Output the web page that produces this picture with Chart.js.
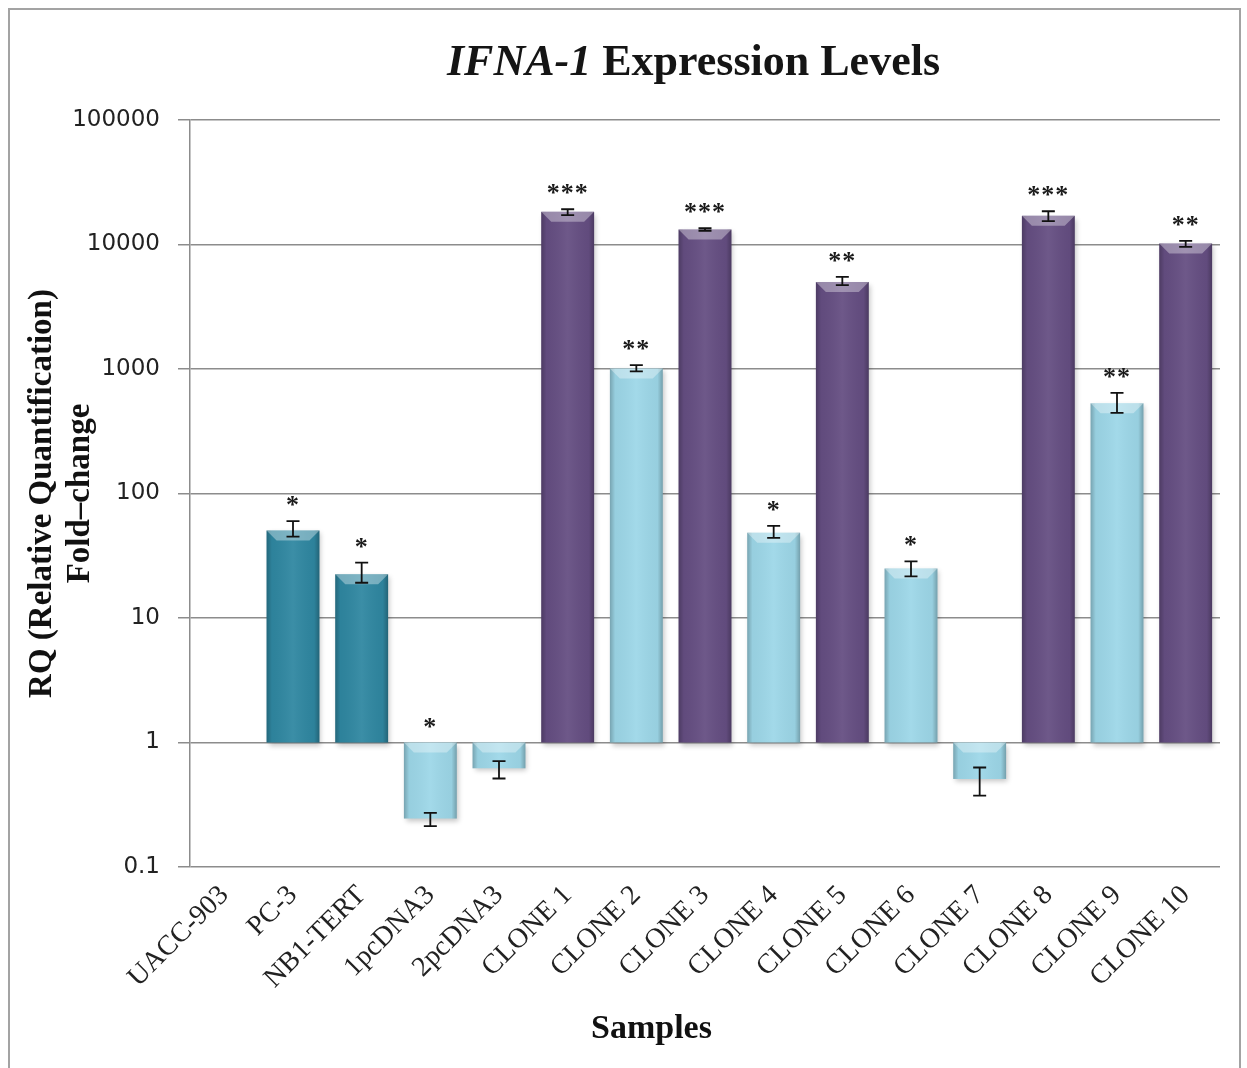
<!DOCTYPE html>
<html>
<head>
<meta charset="utf-8">
<script src="https://cdn.jsdelivr.net/npm/chart.js@4.4.1/dist/chart.umd.min.js"></script>
<style>
  html, body { margin: 0; padding: 0; background: #fff; }
  #contenedor { position: relative; width: 1247px; height: 1068px; overflow: hidden; background: #fff; }
  #marco { position: absolute; left: 8px; top: 8px; width: 1233px; height: 1080px; border: 2px solid #a3a3a3; box-sizing: border-box; }
  #titulo { position: absolute; left: 70px; top: 39px; width: 1247px; text-align: center; font: bold 44px "Liberation Serif", serif; line-height: 44px; color: #151515; }
  #tituloX { position: absolute; left: 28px; top: 1010px; width: 1247px; text-align: center; font: bold 34px "Liberation Serif", serif; line-height: 34px; color: #111; }
  #grafico { position: absolute; left: 0; top: 0; }
</style>
</head>
<body>
<div id="contenedor">
  <div id="marco"></div>
  <canvas id="grafico" width="1247" height="1068"></canvas>
  <div id="titulo"><i>IFNA-1</i> Expression Levels</div>
  <div id="tituloX">Samples</div>
</div>
<script>
const muestras = ["UACC-903", "PC-3", "NB1-TERT", "1pcDNA3", "2pcDNA3", "CLONE 1", "CLONE 2", "CLONE 3", "CLONE 4", "CLONE 5", "CLONE 6", "CLONE 7", "CLONE 8", "CLONE 9", "CLONE 10"];
const rq = [1, 50.5, 22.5, 0.245, 0.62, 18300, 1010, 13200, 48.5, 5000, 25, 0.51, 17000, 530, 10200];
const errorSup = [null, 60, 27.8, 0.272, 0.708, 19200, 1073, 13500, 55, 5500, 28.5, 0.63, 18500, 644, 10700];
const errorInf = [null, 45, 19.2, 0.213, 0.514, 17200, 957, 12900, 44, 4710, 21.6, 0.375, 15400, 445, 9580];
const significancia = ["", "*", "*", "*", "", "***", "**", "***", "*", "**", "*", "", "***", "**", "**"];
const tipo = ["ref", "celula", "celula", "vector", "vector", "alto", "bajo", "alto", "bajo", "alto", "bajo", "bajo", "alto", "bajo", "alto"];
const ticksY = [0.1, 1, 10, 100, 1000, 10000, 100000];

const colores = { ref: "#bdbdbd", celula: "#2f87a1", vector: "#9dd7e8", bajo: "#9dd7e8", alto: "#654e82" };

const pluginSombra = {
  id: "sombra",
  beforeDatasetsDraw(chart) {
    const ctx = chart.ctx;
    ctx.save();
    ctx.shadowColor = "rgba(0,0,0,0.22)";
    ctx.shadowBlur = 5;
    ctx.shadowOffsetX = 2;
    ctx.shadowOffsetY = 3;
  },
  afterDatasetsDraw(chart) {
    chart.ctx.restore();
  }
};

const pluginErrores = {
  id: "errores",
  afterDatasetsDraw(chart) {
    const ctx = chart.ctx;
    const ejeY = chart.scales.y;
    const meta = chart.getDatasetMeta(0);
    const yUno = ejeY.getPixelForValue(1);
    ctx.save();
    meta.data.forEach((barra, i) => {
      const { x, y, base, width } = barra.getProps(["x", "y", "base", "width"], true);
      const izq = x - width / 2;
      const der = x + width / 2;
      const arriba = Math.min(y, base);
      const abajo = Math.max(y, base);
      const alto = abajo - arriba;
      if (alto > 1) {
        // relieve de la barra
        const grad = ctx.createLinearGradient(izq, 0, der, 0);
        grad.addColorStop(0, "rgba(0,0,0,0.24)");
        grad.addColorStop(0.1, "rgba(0,0,0,0.04)");
        grad.addColorStop(0.5, "rgba(255,255,255,0.06)");
        grad.addColorStop(0.9, "rgba(0,0,0,0.04)");
        grad.addColorStop(1, "rgba(0,0,0,0.26)");
        ctx.fillStyle = grad;
        ctx.fillRect(izq, arriba, width, alto);
        const b = Math.min(10, alto / 2);
        ctx.beginPath();
        ctx.moveTo(izq, arriba);
        ctx.lineTo(der, arriba);
        ctx.lineTo(der - b, arriba + b);
        ctx.lineTo(izq + b, arriba + b);
        ctx.closePath();
        ctx.fillStyle = "rgba(255,255,255,0.35)";
        ctx.fill();
      }

      if (errorSup[i] != null) {
        const yS = ejeY.getPixelForValue(errorSup[i]);
        const yI = ejeY.getPixelForValue(errorInf[i]);
        ctx.strokeStyle = "#111";
        ctx.lineWidth = 1.8;
        ctx.beginPath();
        ctx.moveTo(x, yS); ctx.lineTo(x, yI);
        ctx.moveTo(x - 6.5, yS); ctx.lineTo(x + 6.5, yS);
        ctx.moveTo(x - 6.5, yI); ctx.lineTo(x + 6.5, yI);
        ctx.stroke();
      }

      if (significancia[i]) {
        const tope = Math.min(errorSup[i] != null ? ejeY.getPixelForValue(errorSup[i]) : y, yUno);
        const centro = tope - 20;
        ctx.font = "bold 26px 'Liberation Serif', serif";
        ctx.letterSpacing = "1px";
        ctx.fillStyle = "#1a1a1a";
        ctx.textAlign = "center";
        ctx.textBaseline = "alphabetic";
        ctx.fillText(significancia[i], x, centro + 12);
      }
    });
    ctx.restore();
  }
};

new Chart(document.getElementById("grafico"), {
  type: "bar",
  data: {
    labels: muestras,
    datasets: [{
      label: "RQ",
      data: rq.map((v) => [1, v]),
      backgroundColor: tipo.map((t) => colores[t]),
      borderWidth: 0,
      barPercentage: 0.77,
      categoryPercentage: 1
    }]
  },
  options: {
    responsive: false,
    animation: false,
    layout: { padding: { top: 120, right: 27, left: 0, bottom: 0 } },
    plugins: {
      legend: { display: false },
      tooltip: { enabled: false },
      title: { display: false }
    },
    scales: {
      x: {
        grid: { display: false },
        border: { display: false },
        ticks: {
          autoSkip: false,
          maxRotation: 45,
          minRotation: 45,
          padding: 4,
          color: "#222",
          font: { family: "'Liberation Serif', serif", size: 28 }
        },
        title: { display: false },
        afterFit: (eje) => { eje.height = 201; }
      },
      y: {
        type: "logarithmic",
        min: 0.1,
        max: 100000,
        afterBuildTicks: (eje) => { eje.ticks = ticksY.map((v) => ({ value: v })); },
        grid: { color: "#8c8c8c", lineWidth: 1.5, tickLength: 12, drawTicks: true },
        border: { display: true, color: "#8c8c8c", width: 1.5 },
        ticks: {
          padding: 18,
          color: "#222",
          font: { family: "'DejaVu Sans', sans-serif", size: 23 },
          callback: (v) => String(v)
        },
        title: {
          display: true,
          text: ["RQ (Relative Quantification)", "Fold\u2013change"],
          color: "#111",
          padding: { top: 23, bottom: 0 },
          font: { family: "'Liberation Serif', serif", size: 33, weight: "bold", lineHeight: 1.16 }
        },
        afterFit: (eje) => { eje.width = 190; }
      }
    }
  },
  plugins: [pluginSombra, pluginErrores]
});
</script>
</body>
</html>
